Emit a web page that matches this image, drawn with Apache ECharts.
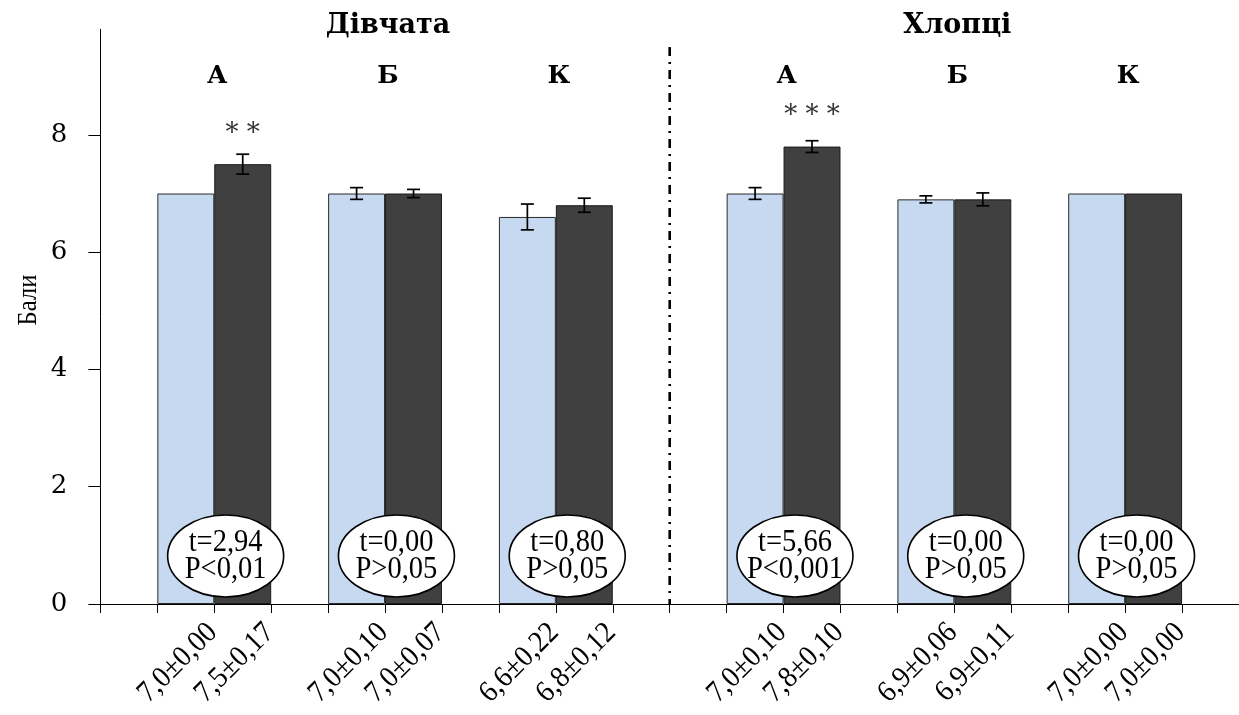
<!DOCTYPE html>
<html><head><meta charset="utf-8">
<script src="https://cdn.jsdelivr.net/npm/echarts@6/dist/echarts.min.js"></script>
<style>html,body{margin:0;padding:0;background:#fff}#c{width:1239px;height:715px}</style>
</head><body><div id="c"></div>
<script>
// ---- data ----
const genders   = ['Дівчата', 'Хлопці'];
const groups    = ['А', 'Б', 'К', 'А', 'Б', 'К'];
const lightMean = [7.0, 7.0, 6.6, 7.0, 6.9, 7.0];
const lightErr  = [0.00, 0.10, 0.22, 0.10, 0.06, 0.00];
const darkMean  = [7.5, 7.0, 6.8, 7.8, 6.9, 7.0];
const darkErr   = [0.17, 0.07, 0.12, 0.10, 0.11, 0.00];
const stars     = ['**', '', '', '***', '', ''];
const tValues   = ['2,94', '0,00', '0,80', '5,66', '0,00', '0,00'];
const pValues   = ['P<0,01', 'P>0,05', 'P>0,05', 'P<0,001', 'P>0,05', 'P>0,05'];
const yTicks    = [0, 2, 4, 6, 8];
const yMax      = 9.8;

// ---- layout helpers ----
const SLOTS = 20;
const lightSlot = g => Math.floor(g / 3) * 10 + 1 + 3 * (g % 3);
const darkSlot  = g => lightSlot(g) + 1;
const fmt = (v, d) => v.toFixed(d).replace('.', ',');

const cats = Array.from({length: SLOTS}, (_, i) => 'c' + i);
const lightData = Array(SLOTS).fill('-');
const darkData  = Array(SLOTS).fill('-');
const starBySlot = Array(SLOTS).fill('');
const errData = [], xlabData = [], xlabText = [];
lightMean.forEach((m, g) => {
  lightData[lightSlot(g)] = m;
  darkData[darkSlot(g)] = darkMean[g];
  starBySlot[darkSlot(g)] = stars[g].split('').join(' ');
  errData.push([lightSlot(g), m, lightErr[g]]);
  errData.push([darkSlot(g), darkMean[g], darkErr[g]]);
  xlabData.push([lightSlot(g), 0]); xlabText.push(fmt(m, 1) + '±' + fmt(lightErr[g], 2));
  xlabData.push([darkSlot(g), 0]);  xlabText.push(fmt(darkMean[g], 1) + '±' + fmt(darkErr[g], 2));
});
const ellData = groups.map((_, g) => [darkSlot(g), 0]);
const letterData = groups.map((_, g) => [darkSlot(g), 0]);
const genderData = genders.map((_, h) => [h * 10 + 5, 0]);
const yLabData = yTicks.map(v => [0, v]);

const SERIF = '"Liberation Serif", "Times New Roman", serif';
const BSERIF = '"DejaVu Serif", serif';

const chart = echarts.init(document.getElementById('c'));
chart.setOption({
  animation: false,
  backgroundColor: '#fff',
  grid: {left: 100.4, top: 29.3, width: 1145.9, bottom: 111},
  xAxis: {
    type: 'category', data: cats,
    axisLine: {lineStyle: {color: '#000', width: 1}},
    axisTick: {show: true, interval: 0, length: 9, lineStyle: {color: '#000', width: 1}},
    axisLabel: {show: false},
    splitLine: {show: false}
  },
  yAxis: {
    type: 'value', min: 0, max: yMax, interval: 2,
    axisLine: {show: true, lineStyle: {color: '#000', width: 1}},
    axisTick: {show: true, length: 12, customValues: yTicks, lineStyle: {color: '#000', width: 1}},
    axisLabel: {show: false},
    splitLine: {show: false}
  },
  graphic: [{
    type: 'text', x: 29, y: 300, rotation: Math.PI / 2, scaleX: 0.88,
    style: {text: 'Бали', font: '28px ' + SERIF, fill: '#000', align: 'center', verticalAlign: 'middle'}
  }],
  series: [
    {type: 'bar', data: lightData, barWidth: '100%', barGap: '-100%', z: 2,
     itemStyle: {color: '#c6d9f0', borderColor: '#2a2a2a', borderWidth: 1}},
    {type: 'bar', data: darkData, barWidth: '100%', barGap: '-100%', z: 2,
     itemStyle: {color: '#404040', borderColor: '#1a1a1a', borderWidth: 1},
     label: {show: true, position: 'top', distance: 17, color: '#333',
             fontFamily: BSERIF, fontSize: 26,
             formatter: p => starBySlot[p.dataIndex]}},
    {type: 'custom', data: yLabData, z: 6, clip: false,
     renderItem: (params, api) => {
       const band = api.size([1, 0])[0];
       const p = api.coord([api.value(0), api.value(1)]);
       return {type: 'text', x: p[0] - band / 2 - 33, y: p[1],
               style: {text: String(api.value(1)), font: '26px ' + BSERIF,
                       fill: '#000', align: 'right', verticalAlign: 'middle'}};
     }},
    {type: 'custom', data: errData, z: 5, clip: false,
     renderItem: (params, api) => {
       const x = api.value(0), m = api.value(1), e = api.value(2);
       if (!e) return null;
       const t = api.coord([x, m + e]), b = api.coord([x, m - e]);
       const st = {stroke: '#000', lineWidth: 1.7};
       return {type: 'group', children: [
         {type: 'line', shape: {x1: t[0], y1: t[1], x2: b[0], y2: b[1]}, style: st},
         {type: 'line', shape: {x1: t[0] - 6.5, y1: t[1], x2: t[0] + 6.5, y2: t[1]}, style: st},
         {type: 'line', shape: {x1: b[0] - 6.5, y1: b[1], x2: b[0] + 6.5, y2: b[1]}, style: st}
       ]};
     }},
    {type: 'custom', data: ellData, z: 6, clip: false,
     renderItem: (params, api) => {
       const g = params.dataIndex;
       const band = api.size([1, 0])[0];
       const c = api.coord([api.value(0), 0]);
       const cx = c[0] - band / 2 + band * 0.2;
       const cy = c[1] - 48;
       return {type: 'group', children: [
         {type: 'ellipse', shape: {cx: cx, cy: cy, rx: 58, ry: 41},
          style: {fill: '#fff', stroke: '#000', lineWidth: 1.6}},
         {type: 'text', x: cx, y: cy, scaleX: 0.92,
          style: {text: 't=' + tValues[g] + '\n' + pValues[g], font: '31px ' + SERIF,
                  lineHeight: 27, fill: '#000', align: 'center', verticalAlign: 'middle'}}
       ]};
     }},
    {type: 'custom', data: xlabData, z: 6, clip: false,
     renderItem: (params, api) => {
       const p = api.coord([api.value(0), 0]);
       return {type: 'text', x: p[0] + 27, y: p[1] + 24, rotation: Math.PI / 4, scaleX: 0.93,
               style: {text: xlabText[params.dataIndex], font: '30px ' + SERIF,
                       fill: '#000', align: 'right', verticalAlign: 'middle'}};
     }},
    {type: 'custom', data: letterData, z: 6, clip: false,
     renderItem: (params, api) => {
       const band = api.size([1, 0])[0];
       const p = api.coord([api.value(0), 9.0]);
       return {type: 'text', x: p[0] - band / 2 + 3, y: p[1],
               style: {text: groups[params.dataIndex], font: 'bold 25px ' + BSERIF,
                       fill: '#000', align: 'center', verticalAlign: 'middle'}};
     }},
    {type: 'custom', data: genderData, z: 6, clip: false,
     renderItem: (params, api) => {
       const band = api.size([1, 0])[0];
       const p = api.coord([api.value(0), 9.85]);
       return {type: 'text', x: p[0] - band / 2 + 3, y: p[1],
               style: {text: genders[params.dataIndex], font: 'bold 27px ' + BSERIF,
                       fill: '#000', align: 'center', verticalAlign: 'middle'}};
     }},
    {type: 'custom', data: [[10, 0]], z: 4, clip: false,
     renderItem: (params, api) => {
       const band = api.size([1, 0])[0];
       const b = api.coord([api.value(0), 0]);
       const t = api.coord([api.value(0), 9.5]);
       const x = b[0] - band / 2;
       return {type: 'line', shape: {x1: x, y1: t[1], x2: x, y2: b[1]},
               style: {stroke: '#000', lineWidth: 2.6, lineDash: [9, 6, 2, 6]}};
     }}
  ]
});
</script></body></html>
